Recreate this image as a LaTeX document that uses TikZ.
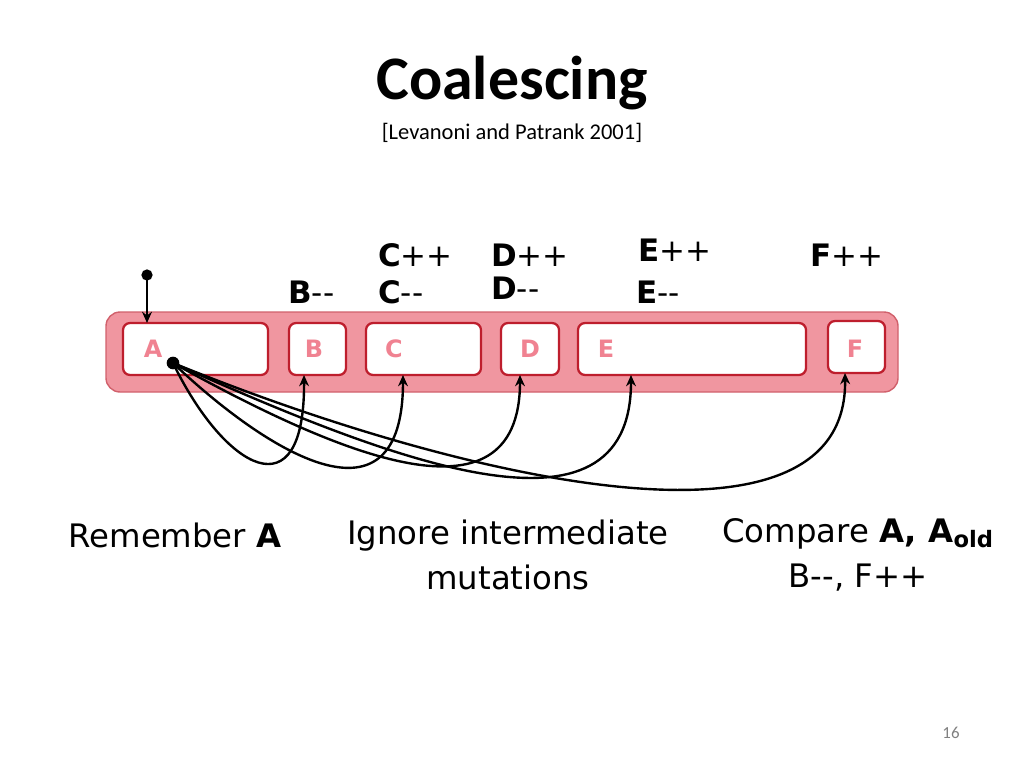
\documentclass[tikz,border=0pt]{standalone}
\usepackage{fontspec}
\setmainfont{DejaVu Sans}
\newfontfamily\titlefont{Carlito}
\usetikzlibrary{arrows.meta}
\definecolor{barred}{RGB}{240,150,160}
\definecolor{edgered}{RGB}{190,30,45}
\definecolor{labpink}{RGB}{240,130,145}
\tikzset{
  cell/.style={draw=edgered, line width=1.6pt, fill=white, rounded corners=5pt},
  celltext/.style={text=labpink, font=\fontsize{17}{19}\selectfont\bfseries},
  op/.style={font=\fontsize{22}{24}\selectfont, anchor=west, inner sep=0pt},
  caption/.style={font=\fontsize{23}{32}\selectfont, align=center},
  ptr/.style={line width=1.7pt, -{Stealth[length=8pt,width=7pt]}}
}
\begin{document}
\begin{tikzpicture}[x=0.025cm, y=-0.025cm]
    \useasboundingbox (0,0) rectangle (1024,768);

    % Title
    \node (title) at (512,83) {\titlefont\bfseries\fontsize{44}{48}\selectfont Coalescing};
    \node (cite) at (512,133) {\titlefont\fontsize{16}{18}\selectfont [Levanoni and Patrank 2001]};

    % Object bar
    \filldraw[fill=barred, draw=edgered!70, line width=1pt, rounded corners=10pt] (106,312) rectangle (898,392);

    % Cells
    \draw[cell] (123,323) rectangle (268,375);
    \draw[cell] (289,323) rectangle (346,375);
    \draw[cell] (366,323) rectangle (481,375);
    \draw[cell] (501,323) rectangle (559,375);
    \draw[cell] (578,323) rectangle (806,375);
    \draw[cell] (828,321) rectangle (885,373);
    \node[celltext] (lA) at (153,349) {A};
    \node[celltext] (lB) at (314,349) {B};
    \node[celltext] (lC) at (394,349) {C};
    \node[celltext] (lD) at (530,349) {D};
    \node[celltext] (lE) at (606,349) {E};
    \node[celltext] (lF) at (855,349) {F};

    % Slot anchors
    \coordinate (sB) at (304,375);
    \coordinate (sC) at (403,375);
    \coordinate (sD) at (520,375);
    \coordinate (sE) at (631,375);
    \coordinate (sF) at (845,373);

    % Root pointer
    \coordinate (root) at (147,275);
    \coordinate (rootend) at (147,323);
    \fill (root) circle (4pt);
    \draw[ptr] (root) -- (rootend);

    % Pointers from A
    \coordinate (pA) at (173,363);
    \fill (pA) circle (4.5pt);
    \draw[ptr] (pA) .. controls (225,470) and (305,515) .. (sB);
    \draw[ptr] (pA) .. controls (270,455) and (403,535) .. (sC);
    \draw[ptr] (pA) .. controls (330,450) and (520,535) .. (sD);
    \draw[ptr] (pA) .. controls (390,460) and (631,555) .. (sE);
    \draw[ptr] (pA) .. controls (460,480) and (848,570) .. (sF);

    % Mutations
    \node[op] (bm) at (288,292) {\textbf{B}-{}-};
    \node[op] (cp) at (378,255) {\textbf{C}++};
    \node[op] (cm) at (378,292) {\textbf{C}-{}-};
    \node[op] (dp) at (491,255) {\textbf{D}++};
    \node[op] (dm) at (491,288) {\textbf{D}-{}-};
    \node[op] (ep) at (638,250) {\textbf{E}++};
    \node[op] (em) at (636,292) {\textbf{E}-{}-};
    \node[op] (fp) at (810,255) {\textbf{F}++};

    % Captions
    \node[caption] (remember) at (175,535) {Remember \textbf{A}};
    \node[caption] (ignore) at (508,555) {Ignore intermediate\\mutations};
    \node[caption] (compare) at (858,555) {Compare \textbf{A, A\textsubscript{old}}\\B-{}-, F++};

    % Page number
    \node[text=gray] (page) at (951,733) {\titlefont\fontsize{12}{14}\selectfont 16};
\end{tikzpicture}
\end{document}
